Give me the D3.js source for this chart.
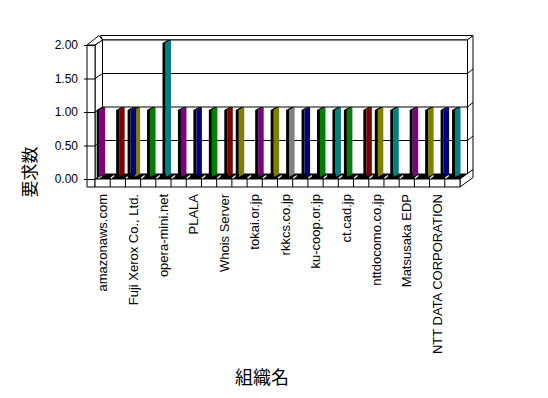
<!DOCTYPE html>
<html><head><meta charset="utf-8">
<script src="https://cdn.jsdelivr.net/npm/d3@7"></script>
<style>body{margin:0;background:#fff}svg{display:block}</style>
</head><body>
<svg id="c" width="548" height="398"></svg>
<script>
// 24 organisations; only every other name is printed on the axis
const categories = ["amazonaws.com","","Fuji Xerox Co., Ltd.","","opera-mini.net","","PLALA","","Whois Server","","tokai.or.jp","","rkkcs.co.jp","","ku-coop.or.jp","","ct.cad.jp","","nttdocomo.co.jp","","Matsusaka EDP","","NTT DATA CORPORATION",""];
const seriesA = [1,0,1,0,0,0,0,0,0,1,0,0,0,0,0,0,1,0,1,1,0,0,0,1];
const seriesB = [0,1,1,1,2,1,1,1,1,0,1,1,1,1,1,1,0,1,0,0,1,1,1,0];
const colorsA = ["#800080",null,"#000080",null,null,null,null,null,null,"#808000",null,null,null,null,null,null,"#008000",null,"#808000","#008080",null,null,null,"#008080"];
const colorsB = [null,"#800000","#808000","#008000","#008080","#800080","#000080","#008000","#800000",null,"#800080","#808000","#808080","#000080","#008000","#008080",null,"#800000",null,null,"#800080","#808000","#000080",null];
const valueTicks = [0,0.5,1,1.5,2];
const yTitle = "要求数";
const xTitle = "組織名";

const svg = d3.select("#c");
const idx = d3.range(categories.length);

// front plane of the 3D box
const yFront = d3.scaleLinear().domain([0,2]).range([179,45]);
const DX = 7.5, DY = -5;           // depth of plot area
const TX = 5.5, TY = -4.5;         // wall thickness
const xFloor = d3.scaleBand().domain(idx).range([95,460]);
const xBar = d3.scaleBand().domain(idx).range([96,466.8]);
const xSlot = d3.scaleBand().domain(["A","B"]).range([0.7,8.7]);
const yBar = d3.scaleLinear().domain([0,2]).range([177,43]);

const L = 95, R = 460, T = yFront(2), B = yFront(0);
const poly = pts => "M" + pts.map(p => p.join(",")).join("L") + "Z";
const g = svg.append("g");
const S = {stroke:"#000","stroke-width":1};
function P(d, fill){ return g.append("path").attr("d", d).attr("fill", fill).attr("stroke","#000").attr("stroke-width",1).attr("stroke-linejoin","miter"); }

// back wall top & right thickness
P(poly([[L+DX,T+DY],[R+DX,T+DY],[R+DX+TX,T+DY+TY],[L+DX-2,T+DY+TY]]), "#fff");
P(poly([[R+DX,T+DY],[R+DX+TX,T+DY+TY],[R+DX+TX,B+DY+TY],[R+DX,B+DY]]), "#fff");
// back wall inner face
P(poly([[L+DX,T+DY],[R+DX,T+DY],[R+DX,B+DY],[L+DX,B+DY]]), "#fff");
// gridlines on back wall and their wraps
valueTicks.filter(v => v>0 && v<2).forEach(v => {
  const y = yFront(v);
  g.append("line").attr("x1",L+DX).attr("x2",R+DX).attr("y1",y+DY).attr("y2",y+DY).attr("stroke","#000");
  g.append("line").attr("x1",R+DX).attr("x2",R+DX+TX).attr("y1",y+DY).attr("y2",y+DY+TY).attr("stroke","#000");
});
// left wall inner face
P(poly([[L,T],[L+DX,T+DY],[L+DX,B+DY],[L,B]]), "#fff");
valueTicks.filter(v => v>0 && v<2).forEach(v => {
  const y = yFront(v);
  g.append("line").attr("x1",L).attr("x2",L+DX).attr("y1",y).attr("y2",y+DY).attr("stroke","#000");
});
// left wall front face and top
P(poly([[87,T],[L,T],[L,B+8],[87,B+8]]), "#fff");
P(poly([[87,T],[L,T],[L+DX,T+DY],[87+DX+TX-1,T+DY+TY]]), "#fff");

// floor top (dark), front face, right face
g.append("path").attr("d", poly([[L,B],[R,B],[R+DX,B+DY],[L+DX,B+DY]])).attr("fill","#000");
P(poly([[R,B],[R+DX+TX,B+DY+TY],[R+DX+TX,B+DY+TY+8],[R,B+8]]), "#fff");
P(poly([[L,B],[R,B],[R,B+8],[L,B+8]]), "#fff");
idx.slice(1).forEach(i => {
  const x = xFloor(i);
  g.append("line").attr("x1",x).attr("x2",x).attr("y1",B).attr("y2",B+8).attr("stroke","#000");
});
idx.forEach(i => {
  const x = xFloor(i) + (i===0?3:0);
  g.append("line").attr("x1",x+0.5).attr("y1",B-0.8).attr("x2",x+4).attr("y2",B-3.5).attr("stroke","#fff").attr("stroke-width",1.3);
});

// bars
function drawBars(values, colors, slot){
  idx.forEach(i => {
    const v = values[i];
    if (!v) return;
    const bx = xBar(i) + xSlot(slot), yt = yBar(v), yb = yBar(0);
    g.append("path").attr("d", poly([[bx+3,yt],[bx+8.5,yt-3],[bx+8.5,yb-3],[bx+3,yb]])).attr("fill", colors[i]);
    g.append("rect").attr("x",bx).attr("y",yt).attr("width",3).attr("height",yb-yt).attr("fill","#000");
    g.append("path").attr("d", poly([[bx,yt],[bx+3,yt],[bx+8.5,yt-3],[bx+5.5,yt-3]])).attr("fill","#000");
  });
}
drawBars(seriesB, colorsB, "B");
drawBars(seriesA, colorsA, "A");

// value axis
const ax = svg.append("g").attr("transform", `translate(${L},0)`)
  .call(d3.axisLeft(yFront).tickValues(valueTicks).tickFormat(d3.format(".2f")).tickSizeInner(11).tickSizeOuter(0).tickPadding(6));
ax.select(".domain").remove();
ax.selectAll("line").attr("stroke","#000");
ax.selectAll("text").attr("font-family","'Liberation Sans', Arial, sans-serif").attr("font-size",12).attr("fill","#000");

// category labels
svg.append("g").selectAll("text").data(idx.filter(i => categories[i] !== "")).join("text")
  .attr("transform", i => `translate(${xFloor(i)+xFloor.bandwidth()/2},194) rotate(-90)`)
  .attr("text-anchor","end").attr("dy","0.35em")
  .attr("font-family","'Liberation Sans', Arial, sans-serif").attr("font-size",13).attr("fill","#000")
  .text(i => categories[i]);

// titles
svg.append("text").attr("transform","translate(28,172) rotate(-90)")
  .attr("text-anchor","middle").attr("dominant-baseline","central")
  .attr("font-family","'Noto Sans CJK JP', sans-serif").attr("font-size",17).text(yTitle);
svg.append("text").attr("x",262).attr("y",376)
  .attr("text-anchor","middle").attr("dominant-baseline","central")
  .attr("font-family","'Noto Sans CJK JP', sans-serif").attr("font-size",18).text(xTitle);
</script>
</body></html>
